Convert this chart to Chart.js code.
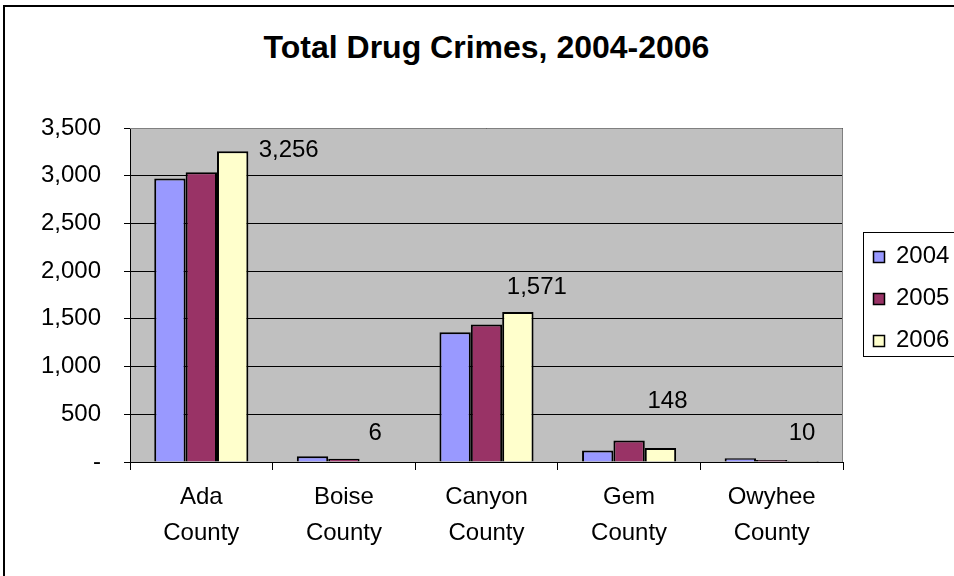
<!DOCTYPE html>
<html>
<head>
<meta charset="utf-8">
<script src="https://cdn.jsdelivr.net/npm/chart.js@4.4.1/dist/chart.umd.min.js"></script>
<style>
  body { margin: 0; width: 954px; height: 576px; overflow: hidden; background: #fff; position: relative; }
  #frame { position: absolute; left: 3px; top: 5px; width: 1000px; height: 700px; border: 2px solid #000; box-sizing: border-box; }
  #title { position: absolute; left: 130px; width: 713px; top: 29px; text-align: center;
           font: bold 32px "Liberation Sans", Arial, sans-serif; color: #000; }
  canvas { position: absolute; left: 0; top: 0; }
</style>
</head>
<body>
<div id="frame"></div>
<div id="title">Total Drug Crimes, 2004-2006</div>
<canvas id="chart" width="954" height="576"></canvas>
<script>
// chart data
const counties = [["Ada", "County"], ["Boise", "County"], ["Canyon", "County"], ["Gem", "County"], ["Owyhee", "County"]];
const years = ["2004", "2005", "2006"];
const crimes2004 = [2970, 60, 1360, 120, 40];
const crimes2005 = [3035, 35, 1440, 225, 20];
const crimes2006 = [3256, 6, 1571, 148, 10];
const yTicks = [0, 500, 1000, 1500, 2000, 2500, 3000, 3500];

const colors = ["#9999FF", "#993366", "#FFFFCC"];
const FONT = "'Liberation Sans', Arial, sans-serif";

// where the 2006 value labels sit relative to the top of their bar
const labelOffsets = [[56, 1], [0, 28], [19, 25], [7, 47], [-1, 28]];

// grey plot background
const plotBackground = {
  id: "plotBackground",
  beforeDraw(chart) {
    const { ctx, chartArea: a } = chart;
    ctx.save();
    ctx.fillStyle = "#C0C0C0";
    ctx.fillRect(a.left, a.top, a.right - a.left, a.bottom - a.top);
    ctx.restore();
  },
  afterDatasetsDraw(chart) {
    const { ctx, chartArea: a } = chart;
    ctx.save();
    ctx.strokeStyle = "#808080";
    ctx.lineWidth = 1;
    ctx.beginPath();
    ctx.moveTo(a.left, a.top + 0.5);
    ctx.lineTo(a.right - 0.5, a.top + 0.5);
    ctx.lineTo(a.right - 0.5, a.bottom);
    ctx.stroke();
    ctx.restore();
  },
};

// value labels on the 2006 series only
const valueLabels = {
  id: "valueLabels",
  afterDraw(chart) {
    const ctx = chart.ctx;
    const meta = chart.getDatasetMeta(2);
    const values = chart.data.datasets[2].data;
    ctx.save();
    ctx.font = "24px " + FONT;
    ctx.fillStyle = "#000";
    ctx.textAlign = "center";
    ctx.textBaseline = "middle";
    meta.data.forEach((bar, i) => {
      const [dx, dy] = labelOffsets[i];
      ctx.fillText(values[i].toLocaleString("en-US"), bar.x + dx, bar.y - dy);
    });
    ctx.restore();
  },
};

// boxed legend on the right
const boxLegend = {
  id: "boxLegend",
  afterDraw(chart) {
    const ctx = chart.ctx;
    ctx.save();
    ctx.strokeStyle = "#000";
    ctx.lineWidth = 1;
    ctx.strokeRect(863.5, 232.5, 120, 124);
    ctx.font = "24px " + FONT;
    ctx.textBaseline = "middle";
    chart.data.datasets.forEach((ds, i) => {
      const cy = 256 + i * 42;
      ctx.fillStyle = ds.backgroundColor;
      ctx.fillRect(873, cy - 5, 11, 11);
      ctx.lineWidth = 1.5;
      ctx.strokeRect(873.5, cy - 4.5, 11, 11);
      ctx.fillStyle = "#000";
      ctx.fillText(ds.label, 896, cy);
    });
    ctx.restore();
  },
};

const seriesValues = [crimes2004, crimes2005, crimes2006];

new Chart(document.getElementById("chart"), {
  type: "bar",
  data: {
    labels: counties,
    datasets: years.map((y, i) => ({
      label: y,
      data: seriesValues[i],
      backgroundColor: colors[i],
      borderColor: "#000",
      borderWidth: 2,
      barPercentage: 1,
      categoryPercentage: 0.66,
    })),
  },
  options: {
    responsive: false,
    animation: false,
    layout: { padding: { top: 128, right: 111, left: 0, bottom: 0 } },
    plugins: { legend: { display: false }, title: { display: false }, tooltip: { enabled: false } },
    scales: {
      x: {
        grid: { drawOnChartArea: false, drawTicks: true, tickLength: 8, color: "#000", offset: true },
        border: { color: "#000", width: 1 },
        ticks: { color: "#000", padding: 9, maxRotation: 0, autoSkip: false,
                 font: { family: FONT, size: 24, lineHeight: 1.5 } },
        afterFit: (s) => { s.height = 114; },
      },
      y: {
        min: 0,
        max: 3500,
        afterBuildTicks: (s) => { s.ticks = yTicks.map((v) => ({ value: v })); },
        grid: { color: "#000", tickLength: 6 },
        border: { color: "#000", width: 1 },
        ticks: { color: "#000", padding: 23, font: { family: FONT, size: 24 },
                 callback: (v) => (v === 0 ? "-" : v.toLocaleString("en-US")) },
        afterFit: (s) => { s.width = 130; },
      },
    },
  },
  plugins: [plotBackground, valueLabels, boxLegend],
});
</script>
</body>
</html>
